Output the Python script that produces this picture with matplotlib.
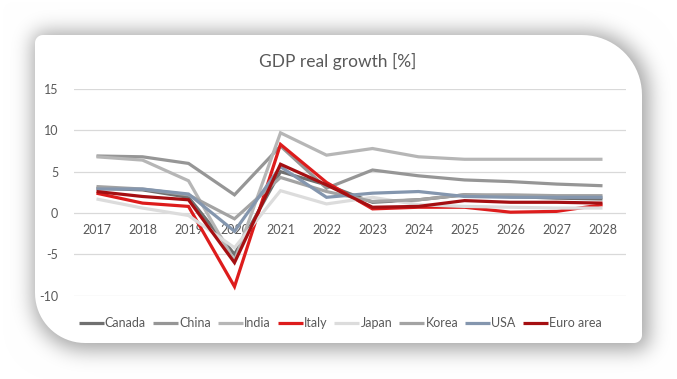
import numpy as np
import matplotlib
matplotlib.use("Agg")
import matplotlib.pyplot as plt
from matplotlib.path import Path
from matplotlib.patches import PathPatch

plt.rcParams['font.family'] = ['Lato', 'DejaVu Sans']

years = ['2017', '2018', '2019', '2020', '2021', '2022', '2023', '2024', '2025', '2026', '2027', '2028']
canada = [3.0, 2.8, 1.9, -5.0, 5.0, 3.4, 1.3, 1.6, 2.2, 2.0, 1.8, 1.7]
china = [6.9, 6.8, 6.0, 2.2, 8.1, 3.0, 5.2, 4.5, 4.0, 3.8, 3.5, 3.3]
india = [6.8, 6.4, 3.9, -5.8, 9.7, 7.0, 7.8, 6.8, 6.5, 6.5, 6.5, 6.5]
italy = [2.4, 1.2, 0.8, -8.9, 8.3, 3.7, 0.5, 0.7, 0.7, 0.1, 0.2, 1.0]
japan = [1.7, 0.6, -0.3, -4.2, 2.7, 1.1, 1.9, 1.0, 0.8, 0.7, 0.6, 0.6]
korea = [3.2, 2.9, 2.2, -0.7, 4.3, 2.6, 1.4, 1.6, 2.2, 2.2, 2.1, 2.1]
usa = [2.9, 2.9, 2.3, -2.2, 5.6, 1.9, 2.4, 2.6, 2.0, 1.9, 1.9, 1.9]
euro = [2.6, 2.0, 1.6, -6.0, 5.9, 3.4, 0.7, 0.8, 1.5, 1.3, 1.3, 1.2]

series = [
    ('Canada', canada, '#707070'),
    ('China', china, '#969696'),
    ('India', india, '#b6b6b6'),
    ('Italy', italy, '#dd1c1c'),
    ('Japan', japan, '#dcdcdc'),
    ('Korea', korea, '#a3a3a3'),
    ('USA', usa, '#8496ae'),
    ('Euro area', euro, '#a50f12'),
]
yticks = [-10, -5, 0, 5, 10, 15]

W, H = 677, 379
fig = plt.figure(figsize=(W / 100, H / 100), dpi=100)
fig.patch.set_facecolor('white')

# ---- background card with shadow ----
def rr_mask(x0, y0, x1, y1, rtl, rtr, rbr, rbl, shape):
    yy, xx = np.mgrid[0:shape[0], 0:shape[1]] + 0.5
    m = (xx >= x0) & (xx <= x1) & (yy >= y0) & (yy <= y1)
    for (cx, cy, r, sx, sy) in [(x0 + rtl, y0 + rtl, rtl, -1, -1), (x1 - rtr, y0 + rtr, rtr, 1, -1),
                                (x1 - rbr, y1 - rbr, rbr, 1, 1), (x0 + rbl, y1 - rbl, rbl, -1, 1)]:
        reg = ((xx - cx) * sx > 0) & ((yy - cy) * sy > 0)
        out = (xx - cx) ** 2 + (yy - cy) ** 2 > r ** 2
        m &= ~(reg & out)
    return m.astype(float)

def blur(a, s):
    k = np.arange(-3 * s, 3 * s + 1)
    g = np.exp(-k ** 2 / (2 * s * s)); g /= g.sum()
    a = np.pad(a, 3 * s, mode='constant')
    a = np.apply_along_axis(lambda v: np.convolve(v, g, mode='same'), 0, a)
    a = np.apply_along_axis(lambda v: np.convolve(v, g, mode='same'), 1, a)
    return a[3 * s:-3 * s, 3 * s:-3 * s]

cx0, cy0, cx1, cy1 = 35, 35, 642, 343
sh = rr_mask(cx0 - 2, cy0 - 3, cx1 + 7, cy1 + 7, 10, 62, 10, 52, (H, W))
sh = blur(sh, 10)
img = np.ones((H, W, 3)) * (1 - 0.36 * sh)[..., None]

bg = fig.add_axes([0, 0, 1, 1])
bg.imshow(img, extent=(0, W, H, 0), interpolation='bilinear')
bg.set_xlim(0, W); bg.set_ylim(H, 0); bg.axis('off')

def rr_path(x0, y0, x1, y1, rtl, rtr, rbr, rbl):
    def arc(cx, cy, r, a0, a1):
        t = np.linspace(np.radians(a0), np.radians(a1), 20)
        return list(zip(cx + r * np.cos(t), cy + r * np.sin(t)))
    pts = []
    pts += arc(x0 + rtl, y0 + rtl, rtl, 180, 270)
    pts += arc(x1 - rtr, y0 + rtr, rtr, 270, 360)
    pts += arc(x1 - rbr, y1 - rbr, rbr, 0, 90)
    pts += arc(x0 + rbl, y1 - rbl, rbl, 90, 180)
    pts.append(pts[0])
    codes = [Path.MOVETO] + [Path.LINETO] * (len(pts) - 2) + [Path.CLOSEPOLY]
    return Path(pts, codes)

bg.add_patch(PathPatch(rr_path(cx0, cy0, cx1, cy1, 8, 60, 8, 50), facecolor='white', edgecolor='none'))

# ---- chart ----
left, right, top, bottom = 73.5, 625.5, 89.0, 295.7
ax = fig.add_axes([left / W, 1 - bottom / H, (right - left) / W, (bottom - top) / H])
ax.patch.set_alpha(0)
x = np.arange(len(years))
for name, vals, col in series:
    ax.plot(x, vals, color=col, lw=2.3, label=name, solid_capstyle='butt', solid_joinstyle='miter')

ax.set_xlim(-0.5, len(years) - 0.5)
ax.set_ylim(-10, 15)
ax.set_yticks(yticks)
ax.set_yticklabels([str(v) for v in yticks])
ax.yaxis.grid(True, color='#d9d9d9', lw=0.9)
ax.set_axisbelow(True)
for s in ['left', 'right', 'top']:
    ax.spines[s].set_visible(False)
ax.spines['bottom'].set_position(('data', 0))
ax.spines['bottom'].set_visible(False)
ax.set_xticks(x)
ax.set_xticklabels(years)
ax.tick_params(axis='x', length=0, pad=8, labelsize=9, labelcolor='#595959')
ax.tick_params(axis='y', length=0, pad=11, labelsize=9, labelcolor='#595959')

fig.text(338 / W, 1 - 61 / H, 'GDP real growth [%]', ha='center', va='center', fontsize=12.5, color='#595959')

handles, labels = ax.get_legend_handles_labels()
leg = fig.legend(handles, labels, loc='center', bbox_to_anchor=(340 / W, 1 - 323 / H), ncol=8,
                 frameon=False, fontsize=9, handlelength=2.0, handletextpad=0.1, columnspacing=0.55,
                 labelcolor='#595959')

fig.savefig('out.png', dpi=100)
